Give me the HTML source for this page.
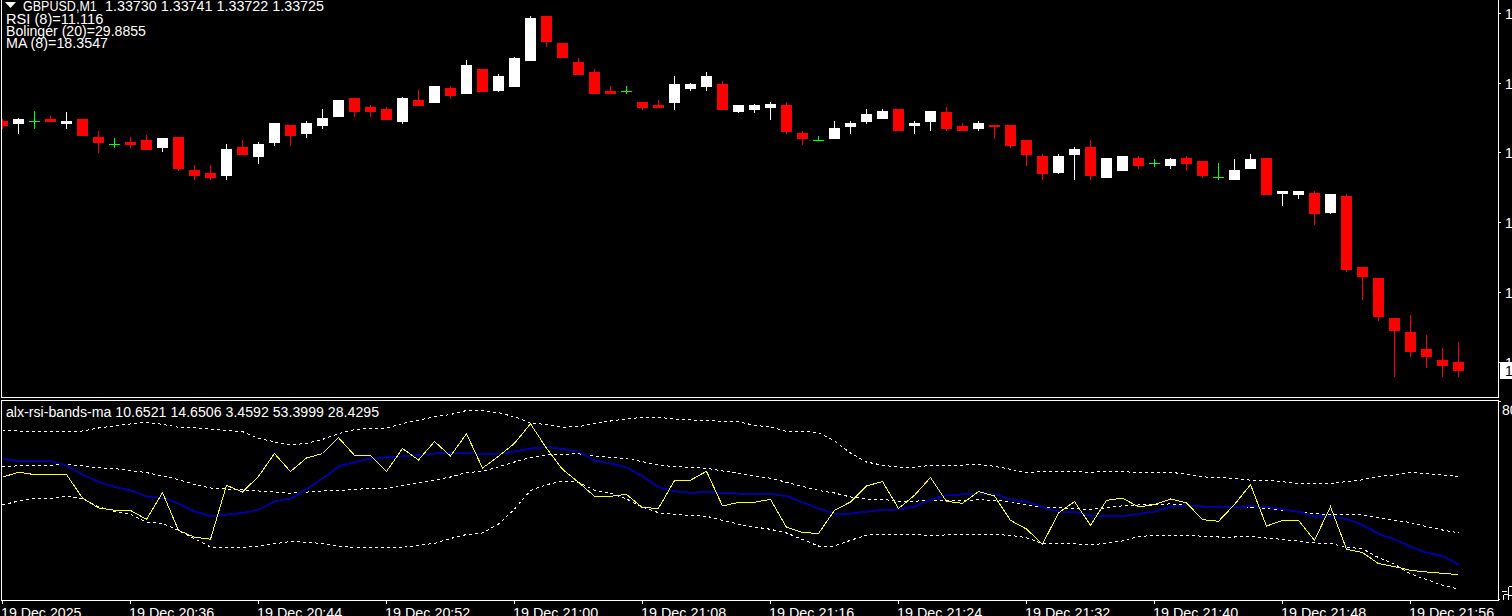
<!DOCTYPE html>
<html><head><meta charset="utf-8"><style>
html,body{margin:0;padding:0;background:#000;}
body{width:1512px;height:616px;overflow:hidden;position:relative;font-family:"Liberation Sans",sans-serif;color:#fff;}
svg{position:absolute;left:0;top:0;}
.t{position:absolute;white-space:pre;font-size:14px;line-height:12px;color:#fff;transform-origin:0 0;transform:scaleX(1.1);}
</style></head><body>
<svg width="1512" height="616" viewBox="0 0 1512 616" shape-rendering="crispEdges">
<g fill="#fff">
<rect x="1" y="0" width="1" height="398"/>
<rect x="1498" y="0" width="1" height="398"/>
<rect x="1" y="397" width="1498" height="1"/>
<rect x="1" y="400" width="1498" height="1"/>
<rect x="1" y="400" width="1" height="201"/>
<rect x="1498" y="400" width="1" height="201"/>
<rect x="1" y="600" width="1498" height="1"/>
<rect x="1499" y="13" width="2" height="1"/>
<rect x="1499" y="83" width="2" height="1"/>
<rect x="1499" y="152" width="2" height="1"/>
<rect x="1499" y="222" width="2" height="1"/>
<rect x="1499" y="292" width="2" height="1"/>
<rect x="1499" y="401" width="2" height="1"/>
<rect x="2" y="601" width="1" height="3"/>
<rect x="130" y="601" width="1" height="3"/>
<rect x="258" y="601" width="1" height="3"/>
<rect x="386" y="601" width="1" height="3"/>
<rect x="514" y="601" width="1" height="3"/>
<rect x="642" y="601" width="1" height="3"/>
<rect x="770" y="601" width="1" height="3"/>
<rect x="898" y="601" width="1" height="3"/>
<rect x="1026" y="601" width="1" height="3"/>
<rect x="1154" y="601" width="1" height="3"/>
<rect x="1282" y="601" width="1" height="3"/>
<rect x="1410" y="601" width="1" height="3"/>
<rect x="1502" y="591" width="5" height="1"/>
<rect x="1503" y="595" width="1" height="5"/>
<rect x="1504" y="594" width="4" height="1"/>
<rect x="1508" y="587" width="1" height="13"/>
<rect x="1509" y="586" width="3" height="1"/>
<rect x="1509" y="595" width="3" height="1"/>
<rect x="1499" y="599" width="1" height="1"/>
</g>
<defs><clipPath id="c1"><rect x="2" y="0" width="1496" height="397"/></clipPath><clipPath id="c2"><rect x="2" y="401" width="1496" height="199"/></clipPath></defs>
<g clip-path="url(#c1)"><rect x="2" y="119" width="1" height="10" fill="#ff0000"/>
<rect x="-3" y="121" width="11" height="5" fill="#ff0000"/>
<rect x="18" y="118" width="1" height="16" fill="#ffffff"/>
<rect x="13" y="119" width="11" height="5" fill="#ffffff"/>
<rect x="34" y="111" width="1" height="18" fill="#00ff00"/>
<rect x="29" y="121" width="11" height="1" fill="#00ff00"/>
<rect x="50" y="116" width="1" height="6" fill="#ff0000"/>
<rect x="45" y="119" width="11" height="3" fill="#ff0000"/>
<rect x="66" y="112" width="1" height="17" fill="#ffffff"/>
<rect x="61" y="121" width="11" height="3" fill="#ffffff"/>
<rect x="82" y="119" width="1" height="17" fill="#ff0000"/>
<rect x="77" y="119" width="11" height="17" fill="#ff0000"/>
<rect x="98" y="131" width="1" height="22" fill="#ff0000"/>
<rect x="93" y="137" width="11" height="6" fill="#ff0000"/>
<rect x="114" y="138" width="1" height="10" fill="#00ff00"/>
<rect x="109" y="144" width="11" height="1" fill="#00ff00"/>
<rect x="130" y="137" width="1" height="11" fill="#ff0000"/>
<rect x="125" y="142" width="11" height="3" fill="#ff0000"/>
<rect x="146" y="135" width="1" height="15" fill="#ff0000"/>
<rect x="141" y="140" width="11" height="10" fill="#ff0000"/>
<rect x="162" y="138" width="1" height="14" fill="#ffffff"/>
<rect x="157" y="138" width="11" height="10" fill="#ffffff"/>
<rect x="178" y="137" width="1" height="34" fill="#ff0000"/>
<rect x="173" y="137" width="11" height="32" fill="#ff0000"/>
<rect x="194" y="165" width="1" height="15" fill="#ff0000"/>
<rect x="189" y="170" width="11" height="6" fill="#ff0000"/>
<rect x="210" y="165" width="1" height="15" fill="#ff0000"/>
<rect x="205" y="173" width="11" height="5" fill="#ff0000"/>
<rect x="226" y="144" width="1" height="36" fill="#ffffff"/>
<rect x="221" y="149" width="11" height="27" fill="#ffffff"/>
<rect x="242" y="140" width="1" height="15" fill="#ff0000"/>
<rect x="237" y="147" width="11" height="8" fill="#ff0000"/>
<rect x="258" y="142" width="1" height="22" fill="#ffffff"/>
<rect x="253" y="144" width="11" height="13" fill="#ffffff"/>
<rect x="274" y="123" width="1" height="23" fill="#ffffff"/>
<rect x="269" y="123" width="11" height="20" fill="#ffffff"/>
<rect x="290" y="125" width="1" height="21" fill="#ff0000"/>
<rect x="285" y="125" width="11" height="11" fill="#ff0000"/>
<rect x="306" y="121" width="1" height="17" fill="#ffffff"/>
<rect x="301" y="123" width="11" height="11" fill="#ffffff"/>
<rect x="322" y="109" width="1" height="20" fill="#ffffff"/>
<rect x="317" y="118" width="11" height="8" fill="#ffffff"/>
<rect x="338" y="100" width="1" height="17" fill="#ffffff"/>
<rect x="333" y="100" width="11" height="17" fill="#ffffff"/>
<rect x="354" y="98" width="1" height="19" fill="#ff0000"/>
<rect x="349" y="98" width="11" height="14" fill="#ff0000"/>
<rect x="370" y="105" width="1" height="12" fill="#ff0000"/>
<rect x="365" y="107" width="11" height="5" fill="#ff0000"/>
<rect x="386" y="107" width="1" height="13" fill="#ff0000"/>
<rect x="381" y="109" width="11" height="11" fill="#ff0000"/>
<rect x="402" y="97" width="1" height="27" fill="#ffffff"/>
<rect x="397" y="98" width="11" height="24" fill="#ffffff"/>
<rect x="418" y="90" width="1" height="16" fill="#ff0000"/>
<rect x="413" y="100" width="11" height="6" fill="#ff0000"/>
<rect x="434" y="86" width="1" height="17" fill="#ffffff"/>
<rect x="429" y="86" width="11" height="17" fill="#ffffff"/>
<rect x="450" y="86" width="1" height="13" fill="#ff0000"/>
<rect x="445" y="88" width="11" height="8" fill="#ff0000"/>
<rect x="466" y="60" width="1" height="34" fill="#ffffff"/>
<rect x="461" y="65" width="11" height="29" fill="#ffffff"/>
<rect x="482" y="69" width="1" height="23" fill="#ff0000"/>
<rect x="477" y="69" width="11" height="23" fill="#ff0000"/>
<rect x="498" y="74" width="1" height="18" fill="#ffffff"/>
<rect x="493" y="76" width="11" height="15" fill="#ffffff"/>
<rect x="514" y="57" width="1" height="30" fill="#ffffff"/>
<rect x="509" y="58" width="11" height="29" fill="#ffffff"/>
<rect x="530" y="16" width="1" height="45" fill="#ffffff"/>
<rect x="525" y="18" width="11" height="43" fill="#ffffff"/>
<rect x="546" y="16" width="1" height="31" fill="#ff0000"/>
<rect x="541" y="16" width="11" height="26" fill="#ff0000"/>
<rect x="562" y="43" width="1" height="15" fill="#ff0000"/>
<rect x="557" y="43" width="11" height="15" fill="#ff0000"/>
<rect x="578" y="58" width="1" height="17" fill="#ff0000"/>
<rect x="573" y="62" width="11" height="13" fill="#ff0000"/>
<rect x="594" y="69" width="1" height="25" fill="#ff0000"/>
<rect x="589" y="72" width="11" height="22" fill="#ff0000"/>
<rect x="610" y="86" width="1" height="8" fill="#ff0000"/>
<rect x="605" y="91" width="11" height="3" fill="#ff0000"/>
<rect x="626" y="86" width="1" height="8" fill="#00ff00"/>
<rect x="621" y="91" width="11" height="1" fill="#00ff00"/>
<rect x="642" y="102" width="1" height="8" fill="#ff0000"/>
<rect x="637" y="102" width="11" height="6" fill="#ff0000"/>
<rect x="658" y="100" width="1" height="8" fill="#ff0000"/>
<rect x="653" y="105" width="11" height="3" fill="#ff0000"/>
<rect x="674" y="76" width="1" height="34" fill="#ffffff"/>
<rect x="669" y="84" width="11" height="19" fill="#ffffff"/>
<rect x="690" y="83" width="1" height="8" fill="#ffffff"/>
<rect x="685" y="84" width="11" height="5" fill="#ffffff"/>
<rect x="706" y="72" width="1" height="19" fill="#ffffff"/>
<rect x="701" y="76" width="11" height="11" fill="#ffffff"/>
<rect x="722" y="81" width="1" height="29" fill="#ff0000"/>
<rect x="717" y="84" width="11" height="26" fill="#ff0000"/>
<rect x="738" y="105" width="1" height="8" fill="#ffffff"/>
<rect x="733" y="105" width="11" height="7" fill="#ffffff"/>
<rect x="754" y="104" width="1" height="9" fill="#ffffff"/>
<rect x="749" y="105" width="11" height="5" fill="#ffffff"/>
<rect x="770" y="102" width="1" height="18" fill="#ffffff"/>
<rect x="765" y="104" width="11" height="4" fill="#ffffff"/>
<rect x="786" y="102" width="1" height="32" fill="#ff0000"/>
<rect x="781" y="105" width="11" height="27" fill="#ff0000"/>
<rect x="802" y="131" width="1" height="14" fill="#ff0000"/>
<rect x="797" y="133" width="11" height="6" fill="#ff0000"/>
<rect x="818" y="136" width="1" height="5" fill="#00ff00"/>
<rect x="813" y="140" width="11" height="1" fill="#00ff00"/>
<rect x="834" y="121" width="1" height="18" fill="#ffffff"/>
<rect x="829" y="128" width="11" height="11" fill="#ffffff"/>
<rect x="850" y="121" width="1" height="13" fill="#ffffff"/>
<rect x="845" y="123" width="11" height="4" fill="#ffffff"/>
<rect x="866" y="109" width="1" height="15" fill="#ffffff"/>
<rect x="861" y="114" width="11" height="8" fill="#ffffff"/>
<rect x="882" y="109" width="1" height="10" fill="#ffffff"/>
<rect x="877" y="111" width="11" height="8" fill="#ffffff"/>
<rect x="898" y="109" width="1" height="22" fill="#ff0000"/>
<rect x="893" y="109" width="11" height="22" fill="#ff0000"/>
<rect x="914" y="121" width="1" height="13" fill="#ffffff"/>
<rect x="909" y="123" width="11" height="3" fill="#ffffff"/>
<rect x="930" y="111" width="1" height="20" fill="#ffffff"/>
<rect x="925" y="111" width="11" height="11" fill="#ffffff"/>
<rect x="946" y="107" width="1" height="24" fill="#ff0000"/>
<rect x="941" y="112" width="11" height="17" fill="#ff0000"/>
<rect x="962" y="123" width="1" height="8" fill="#ff0000"/>
<rect x="957" y="126" width="11" height="5" fill="#ff0000"/>
<rect x="978" y="121" width="1" height="10" fill="#ffffff"/>
<rect x="973" y="123" width="11" height="6" fill="#ffffff"/>
<rect x="994" y="125" width="1" height="14" fill="#ff0000"/>
<rect x="989" y="125" width="11" height="2" fill="#ff0000"/>
<rect x="1010" y="125" width="1" height="23" fill="#ff0000"/>
<rect x="1005" y="125" width="11" height="21" fill="#ff0000"/>
<rect x="1026" y="140" width="1" height="26" fill="#ff0000"/>
<rect x="1021" y="140" width="11" height="15" fill="#ff0000"/>
<rect x="1042" y="154" width="1" height="26" fill="#ff0000"/>
<rect x="1037" y="156" width="11" height="18" fill="#ff0000"/>
<rect x="1058" y="154" width="1" height="20" fill="#ffffff"/>
<rect x="1053" y="156" width="11" height="17" fill="#ffffff"/>
<rect x="1074" y="147" width="1" height="33" fill="#ffffff"/>
<rect x="1069" y="149" width="11" height="6" fill="#ffffff"/>
<rect x="1090" y="140" width="1" height="40" fill="#ff0000"/>
<rect x="1085" y="147" width="11" height="29" fill="#ff0000"/>
<rect x="1106" y="158" width="1" height="20" fill="#ffffff"/>
<rect x="1101" y="158" width="11" height="20" fill="#ffffff"/>
<rect x="1122" y="156" width="1" height="15" fill="#ffffff"/>
<rect x="1117" y="156" width="11" height="15" fill="#ffffff"/>
<rect x="1138" y="156" width="1" height="13" fill="#ff0000"/>
<rect x="1133" y="158" width="11" height="8" fill="#ff0000"/>
<rect x="1154" y="159" width="1" height="8" fill="#00ff00"/>
<rect x="1149" y="163" width="11" height="1" fill="#00ff00"/>
<rect x="1170" y="158" width="1" height="11" fill="#ffffff"/>
<rect x="1165" y="159" width="11" height="7" fill="#ffffff"/>
<rect x="1186" y="156" width="1" height="15" fill="#ff0000"/>
<rect x="1181" y="158" width="11" height="6" fill="#ff0000"/>
<rect x="1202" y="161" width="1" height="17" fill="#ff0000"/>
<rect x="1197" y="161" width="11" height="15" fill="#ff0000"/>
<rect x="1218" y="163" width="1" height="17" fill="#00ff00"/>
<rect x="1213" y="177" width="11" height="1" fill="#00ff00"/>
<rect x="1234" y="159" width="1" height="21" fill="#ffffff"/>
<rect x="1229" y="170" width="11" height="10" fill="#ffffff"/>
<rect x="1250" y="154" width="1" height="15" fill="#ffffff"/>
<rect x="1245" y="159" width="11" height="10" fill="#ffffff"/>
<rect x="1266" y="158" width="1" height="37" fill="#ff0000"/>
<rect x="1261" y="158" width="11" height="37" fill="#ff0000"/>
<rect x="1282" y="191" width="1" height="15" fill="#ffffff"/>
<rect x="1277" y="191" width="11" height="3" fill="#ffffff"/>
<rect x="1298" y="191" width="1" height="8" fill="#ffffff"/>
<rect x="1293" y="191" width="11" height="4" fill="#ffffff"/>
<rect x="1314" y="191" width="1" height="34" fill="#ff0000"/>
<rect x="1309" y="193" width="11" height="21" fill="#ff0000"/>
<rect x="1330" y="194" width="1" height="20" fill="#ffffff"/>
<rect x="1325" y="194" width="11" height="19" fill="#ffffff"/>
<rect x="1346" y="194" width="1" height="78" fill="#ff0000"/>
<rect x="1341" y="196" width="11" height="74" fill="#ff0000"/>
<rect x="1362" y="267" width="1" height="33" fill="#ff0000"/>
<rect x="1357" y="267" width="11" height="10" fill="#ff0000"/>
<rect x="1378" y="278" width="1" height="43" fill="#ff0000"/>
<rect x="1373" y="278" width="11" height="39" fill="#ff0000"/>
<rect x="1394" y="318" width="1" height="59" fill="#ff0000"/>
<rect x="1389" y="318" width="11" height="13" fill="#ff0000"/>
<rect x="1410" y="315" width="1" height="42" fill="#ff0000"/>
<rect x="1405" y="332" width="11" height="20" fill="#ff0000"/>
<rect x="1426" y="335" width="1" height="33" fill="#ff0000"/>
<rect x="1421" y="349" width="11" height="8" fill="#ff0000"/>
<rect x="1442" y="348" width="1" height="29" fill="#ff0000"/>
<rect x="1437" y="360" width="11" height="6" fill="#ff0000"/>
<rect x="1458" y="342" width="1" height="35" fill="#ff0000"/>
<rect x="1453" y="362" width="11" height="9" fill="#ff0000"/></g>
<g clip-path="url(#c2)">
<polyline points="2.5,430.0 18.5,431.0 34.5,431.2 50.5,431.6 66.5,431.7 82.5,431.0 98.5,428.0 114.5,426.0 130.5,424.0 146.5,422.3 162.5,424.3 178.5,427.2 194.5,427.7 210.5,429.3 226.5,430.4 242.5,431.6 258.5,438.5 274.5,441.8 290.5,445.0 306.5,443.4 322.5,439.4 338.5,433.7 354.5,429.6 370.5,428.3 386.5,428.2 402.5,423.5 418.5,420.1 434.5,416.8 450.5,414.5 466.5,410.5 482.5,410.8 498.5,412.7 514.5,416.8 530.5,423.0 546.5,424.5 562.5,427.2 578.5,426.7 594.5,423.4 610.5,421.0 626.5,419.0 642.5,417.3 658.5,417.3 674.5,419.0 690.5,420.0 706.5,420.6 722.5,421.4 738.5,421.7 754.5,425.4 770.5,427.0 786.5,431.4 802.5,431.4 818.5,432.7 834.5,440.9 850.5,453.0 866.5,462.0 882.5,465.2 898.5,467.2 914.5,467.2 930.5,465.4 946.5,465.2 962.5,465.2 978.5,464.4 994.5,466.3 1010.5,469.2 1026.5,472.5 1042.5,471.7 1058.5,471.7 1074.5,471.7 1090.5,472.2 1106.5,471.7 1122.5,471.7 1138.5,472.5 1154.5,472.5 1170.5,472.3 1186.5,474.2 1202.5,476.9 1218.5,477.4 1234.5,478.5 1250.5,480.2 1266.5,480.2 1282.5,481.8 1298.5,483.4 1314.5,484.0 1330.5,483.5 1346.5,481.6 1362.5,479.8 1378.5,476.3 1394.5,475.1 1410.5,472.5 1426.5,473.8 1442.5,474.9 1458.5,476.5" fill="none" stroke="#fff" stroke-width="1" stroke-dasharray="3,3"/>
<polyline points="2.5,467.0 18.5,465.7 34.5,465.7 50.5,465.3 66.5,464.5 82.5,466.0 98.5,467.8 114.5,468.6 130.5,470.7 146.5,472.6 162.5,475.9 178.5,479.6 194.5,484.5 210.5,488.0 226.5,488.9 242.5,490.0 258.5,491.0 274.5,492.1 290.5,493.3 306.5,492.1 322.5,491.0 338.5,490.5 354.5,489.4 370.5,488.4 386.5,488.4 402.5,485.2 418.5,483.2 434.5,480.0 450.5,477.0 466.5,472.5 482.5,471.4 498.5,466.8 514.5,462.0 530.5,457.4 546.5,455.1 562.5,454.2 578.5,453.8 594.5,456.3 610.5,457.4 626.5,458.7 642.5,461.6 658.5,465.2 674.5,466.5 690.5,467.6 706.5,468.3 722.5,470.9 738.5,473.3 754.5,476.3 770.5,478.2 786.5,482.3 802.5,486.3 818.5,490.4 834.5,493.0 850.5,497.0 866.5,499.0 882.5,499.3 898.5,501.2 914.5,501.2 930.5,500.2 946.5,500.9 962.5,500.4 978.5,499.8 994.5,500.4 1010.5,501.7 1026.5,505.0 1042.5,506.9 1058.5,507.9 1074.5,508.5 1090.5,509.5 1106.5,507.9 1122.5,505.8 1138.5,505.0 1154.5,504.6 1170.5,503.9 1186.5,505.0 1202.5,506.6 1218.5,507.0 1234.5,507.8 1250.5,507.3 1266.5,508.6 1282.5,510.2 1298.5,511.8 1314.5,513.9 1330.5,514.2 1346.5,514.5 1362.5,514.9 1378.5,517.8 1394.5,520.2 1410.5,522.5 1426.5,526.7 1442.5,530.0 1458.5,532.8" fill="none" stroke="#fff" stroke-width="1" stroke-dasharray="3,3"/>
<polyline points="2.5,505.0 18.5,501.0 34.5,498.6 50.5,499.0 66.5,496.3 82.5,499.0 98.5,506.7 114.5,511.4 130.5,514.2 146.5,522.3 162.5,523.4 178.5,530.4 194.5,538.8 210.5,547.0 226.5,547.3 242.5,547.3 258.5,546.2 274.5,543.7 290.5,541.6 306.5,542.1 322.5,543.7 338.5,546.2 354.5,547.3 370.5,547.3 386.5,547.3 402.5,547.3 418.5,545.3 434.5,543.4 450.5,538.5 466.5,534.5 482.5,533.0 498.5,524.1 514.5,509.0 530.5,490.5 546.5,484.7 562.5,481.0 578.5,482.3 594.5,490.2 610.5,493.2 626.5,499.0 642.5,507.2 658.5,512.7 674.5,514.4 690.5,515.7 706.5,516.2 722.5,520.5 738.5,524.1 754.5,527.0 770.5,529.3 786.5,533.0 802.5,539.5 818.5,546.0 834.5,546.0 850.5,540.3 866.5,535.1 882.5,534.2 898.5,534.2 914.5,534.7 930.5,535.5 946.5,534.9 962.5,534.9 978.5,534.4 994.5,534.4 1010.5,535.4 1026.5,537.7 1042.5,543.5 1058.5,543.5 1074.5,543.8 1090.5,545.1 1106.5,543.0 1122.5,540.9 1138.5,536.5 1154.5,535.4 1170.5,535.4 1186.5,535.4 1202.5,536.2 1218.5,537.0 1234.5,537.0 1250.5,536.5 1266.5,538.1 1282.5,539.4 1298.5,541.1 1314.5,543.0 1330.5,543.5 1346.5,547.1 1362.5,548.8 1378.5,557.6 1394.5,564.1 1410.5,573.9 1426.5,579.5 1442.5,585.2 1458.5,589.0" fill="none" stroke="#fff" stroke-width="1" stroke-dasharray="3,3"/>
<polyline points="3.0,458.8 19.0,461.0 35.0,461.0 51.0,461.3 67.0,465.7 83.0,474.8 99.0,482.0 115.0,487.0 131.0,490.5 147.0,496.6 163.0,497.9 179.0,503.7 195.0,511.8 211.0,516.0 227.0,514.6 243.0,513.0 259.0,509.6 275.0,501.2 291.0,498.6 307.0,488.9 323.0,478.3 339.0,466.2 355.0,462.1 371.0,458.4 387.0,457.2 403.0,456.4 419.0,454.8 435.0,453.5 451.0,453.2 467.0,453.1 483.0,453.8 499.0,453.8 515.0,451.4 531.0,448.6 547.0,447.0 563.0,449.0 579.0,451.9 595.0,460.7 611.0,463.6 627.0,467.6 643.0,476.6 659.0,487.6 675.0,491.2 691.0,492.8 707.0,492.0 723.0,492.9 739.0,493.6 755.0,494.0 771.0,494.0 787.0,496.2 803.0,502.4 819.0,508.8 835.0,513.5 851.0,513.5 867.0,511.6 883.0,509.8 899.0,509.4 915.0,506.4 931.0,499.5 947.0,495.2 963.0,494.4 979.0,493.6 995.0,493.9 1011.0,499.8 1027.0,501.7 1043.0,507.4 1059.0,511.5 1075.0,512.3 1091.0,515.5 1107.0,516.0 1123.0,516.0 1139.0,513.9 1155.0,511.5 1171.0,506.4 1187.0,505.3 1203.0,506.6 1219.0,507.0 1235.0,507.3 1251.0,506.2 1267.0,507.0 1283.0,509.4 1299.0,511.8 1315.0,516.6 1331.0,515.9 1347.0,519.3 1363.0,525.2 1379.0,534.0 1395.0,539.6 1411.0,547.1 1427.0,552.8 1443.0,556.0 1459.0,565.0" fill="none" stroke="#0000a0" stroke-width="2"/>
<polyline points="2.5,477.2 18.5,472.2 34.5,474.6 50.5,474.6 66.5,474.6 82.5,498.0 98.5,508.0 114.5,510.2 130.5,510.4 146.5,519.4 162.5,492.6 178.5,530.4 194.5,537.2 210.5,539.2 226.5,485.3 242.5,492.0 258.5,476.4 274.5,453.5 290.5,471.5 306.5,458.0 322.5,453.5 338.5,437.7 354.5,455.3 370.5,455.3 386.5,471.5 402.5,448.5 418.5,460.0 434.5,441.5 450.5,456.0 466.5,433.7 482.5,468.1 498.5,456.3 514.5,443.3 530.5,423.8 546.5,448.2 562.5,469.3 578.5,482.3 594.5,496.3 610.5,496.3 626.5,494.4 642.5,507.8 658.5,508.2 674.5,480.6 690.5,480.2 706.5,471.3 722.5,506.0 738.5,502.4 754.5,502.2 770.5,499.4 786.5,527.3 802.5,532.5 818.5,533.5 834.5,510.3 850.5,502.0 866.5,486.0 882.5,481.5 898.5,508.5 914.5,495.3 930.5,477.5 946.5,501.4 962.5,503.3 978.5,491.6 994.5,496.0 1010.5,520.4 1026.5,529.0 1042.5,544.2 1058.5,513.0 1074.5,501.5 1090.5,525.3 1106.5,500.4 1122.5,498.1 1138.5,506.9 1154.5,504.6 1170.5,499.0 1186.5,502.9 1202.5,519.6 1218.5,521.3 1234.5,504.5 1250.5,484.6 1266.5,526.1 1282.5,520.4 1298.5,520.4 1314.5,540.3 1330.5,506.6 1346.5,549.2 1362.5,552.5 1378.5,563.6 1394.5,566.6 1410.5,570.3 1426.5,572.0 1442.5,573.3 1458.5,574.6" fill="none" stroke="#ffff00" stroke-width="1"/>
</g>
<polygon points="5,2 16,2 10.5,8" fill="#fff" shape-rendering="auto"/>
</svg>
<div class="t" style="left:22.5px;top:0px;transform:scaleX(0.895);color:#fff">GBPUSD,M1</div>
<div class="t" style="left:105px;top:0px;transform:scaleX(1.023);color:#fff">1.33730 1.33741 1.33722 1.33725</div>
<div class="t" style="left:6px;top:13px;transform:scaleX(1.043);color:#fff">RSI (8)=11.116</div>
<div class="t" style="left:6px;top:25px;transform:scaleX(1.007);color:#fff">Bolinger (20)=29.8855</div>
<div class="t" style="left:6px;top:37px;transform:scaleX(1.02);color:#fff">MA (8)=18.3547</div>
<div class="t" style="left:6px;top:406px;transform:scaleX(1.011);color:#fff">alx-rsi-bands-ma 10.6521 14.6506 3.4592 53.3999 28.4295</div>
<div class="t" style="left:1505px;top:8px;transform:scaleX(1);color:#fff">1</div>
<div class="t" style="left:1505px;top:78px;transform:scaleX(1);color:#fff">1</div>
<div class="t" style="left:1505px;top:147px;transform:scaleX(1);color:#fff">1</div>
<div class="t" style="left:1505px;top:217px;transform:scaleX(1);color:#fff">1</div>
<div class="t" style="left:1505px;top:287px;transform:scaleX(1);color:#fff">1</div>
<div class="t" style="left:1505px;top:357px;transform:scaleX(1);color:#fff">1</div>
<div style="position:absolute;left:1500px;top:362px;width:12px;height:17px;background:#fff"></div><div style="position:absolute;left:1499px;top:362px;width:1px;height:1px;background:#fff"></div>
<div class="t" style="left:1505px;top:365px;transform:scaleX(1);color:#000">1</div>
<div class="t" style="left:1502px;top:404px;transform:scaleX(1);color:#fff">80</div>
<div class="t" style="left:1px;top:607px;transform:scaleX(1.013);color:#fff">19 Dec 2025</div>
<div class="t" style="left:129px;top:607px;transform:scaleX(1.024);color:#fff">19 Dec 20:36</div>
<div class="t" style="left:257px;top:607px;transform:scaleX(1.024);color:#fff">19 Dec 20:44</div>
<div class="t" style="left:385px;top:607px;transform:scaleX(1.024);color:#fff">19 Dec 20:52</div>
<div class="t" style="left:513px;top:607px;transform:scaleX(1.024);color:#fff">19 Dec 21:00</div>
<div class="t" style="left:641px;top:607px;transform:scaleX(1.024);color:#fff">19 Dec 21:08</div>
<div class="t" style="left:769px;top:607px;transform:scaleX(1.024);color:#fff">19 Dec 21:16</div>
<div class="t" style="left:897px;top:607px;transform:scaleX(1.024);color:#fff">19 Dec 21:24</div>
<div class="t" style="left:1025px;top:607px;transform:scaleX(1.024);color:#fff">19 Dec 21:32</div>
<div class="t" style="left:1153px;top:607px;transform:scaleX(1.024);color:#fff">19 Dec 21:40</div>
<div class="t" style="left:1281px;top:607px;transform:scaleX(1.024);color:#fff">19 Dec 21:48</div>
<div class="t" style="left:1409px;top:607px;transform:scaleX(1.024);color:#fff">19 Dec 21:56</div>
</body></html>
